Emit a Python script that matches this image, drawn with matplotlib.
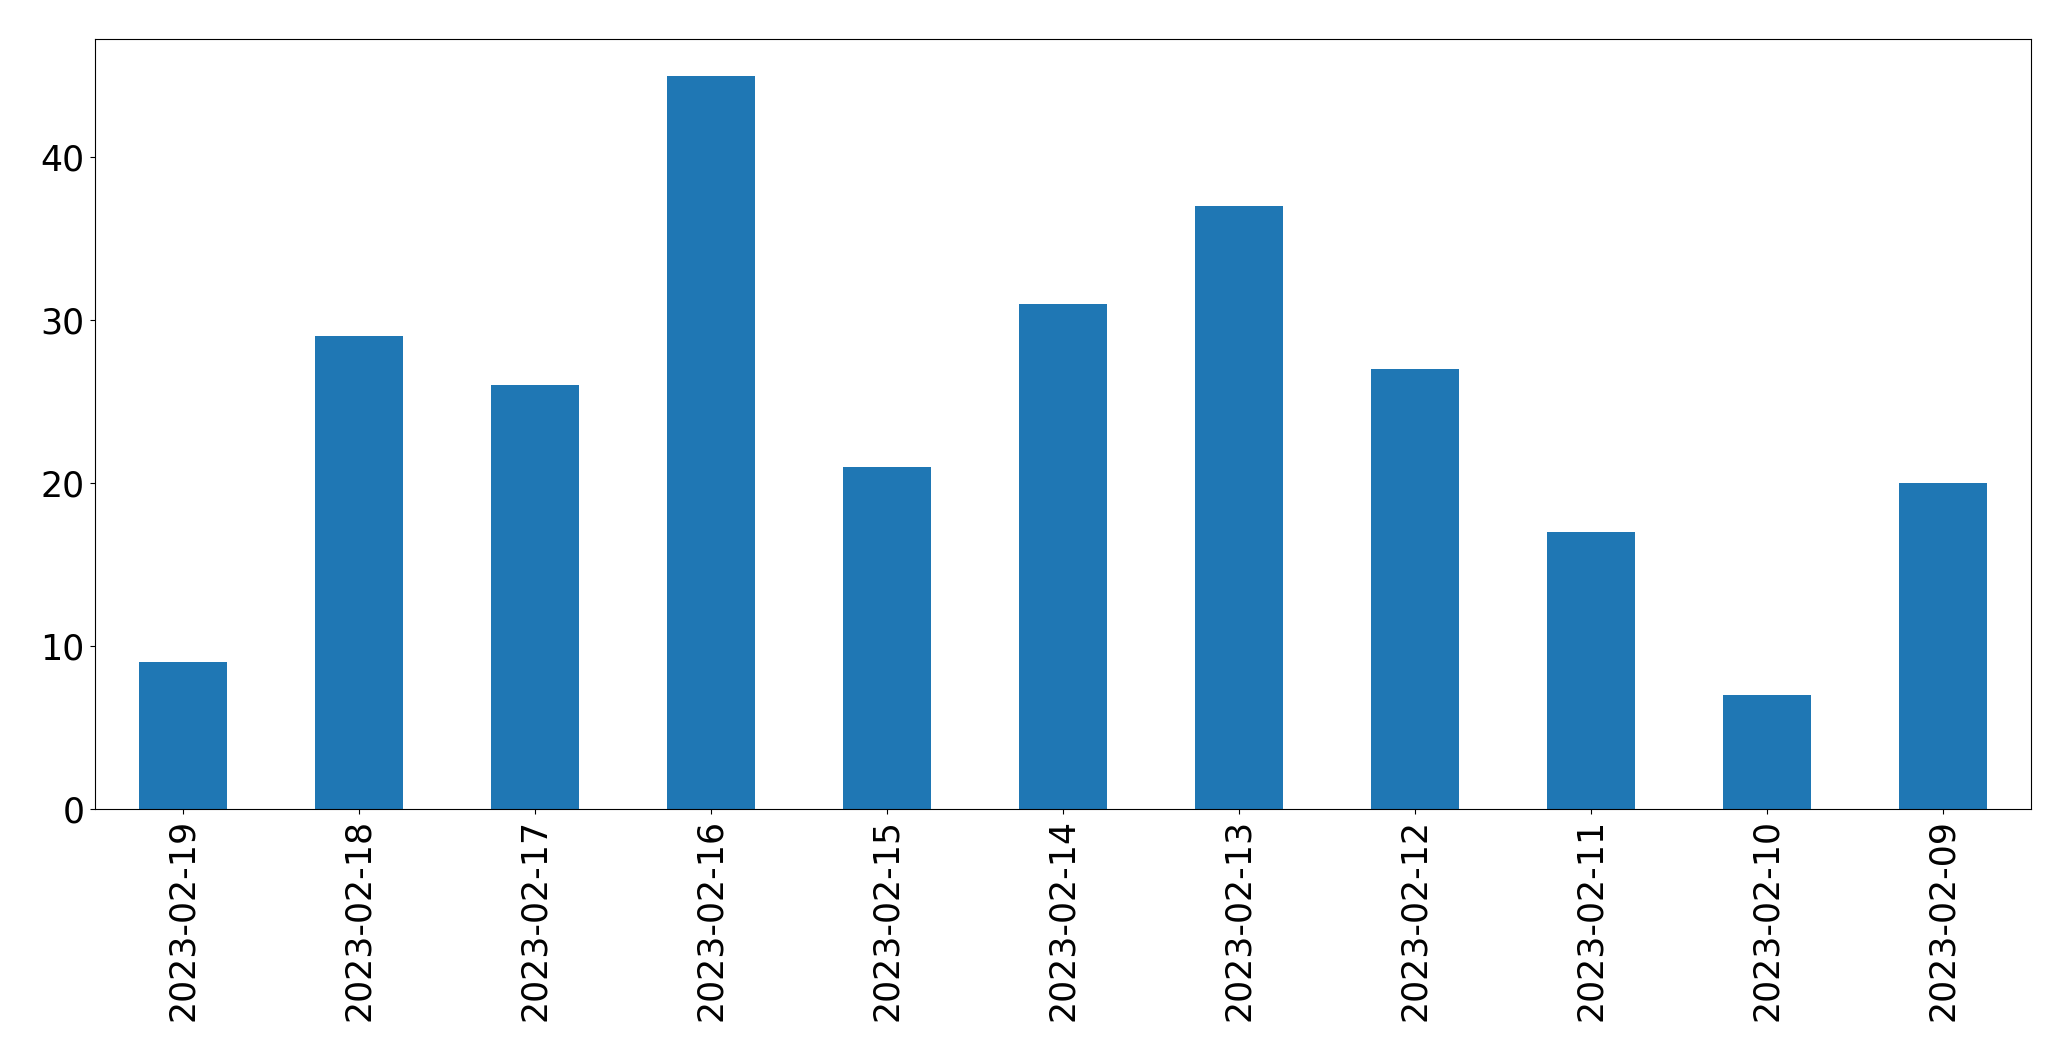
import matplotlib
matplotlib.use("Agg")
import matplotlib.pyplot as plt
import pandas as pd

# daily counts, newest first (as in the reference)
dates = ["2023-02-19", "2023-02-18", "2023-02-17", "2023-02-16", "2023-02-15",
         "2023-02-14", "2023-02-13", "2023-02-12", "2023-02-11", "2023-02-10",
         "2023-02-09"]
counts = [9, 29, 26, 45, 21, 31, 37, 27, 17, 7, 20]

s = pd.Series(counts, index=dates)

fig = plt.figure(figsize=(20.71, 10.61), dpi=100)
ax = fig.add_axes([94.5 / 2071, 1 - 809 / 1061, (2031 - 94.5) / 2071, (809 - 39) / 1061])
s.plot(kind="bar", ax=ax, color="#1f77b4")
ax.tick_params(axis="both", labelsize=25)
ax.set_yticks([0, 10, 20, 30, 40])

fig.savefig("out.png", dpi=100)
